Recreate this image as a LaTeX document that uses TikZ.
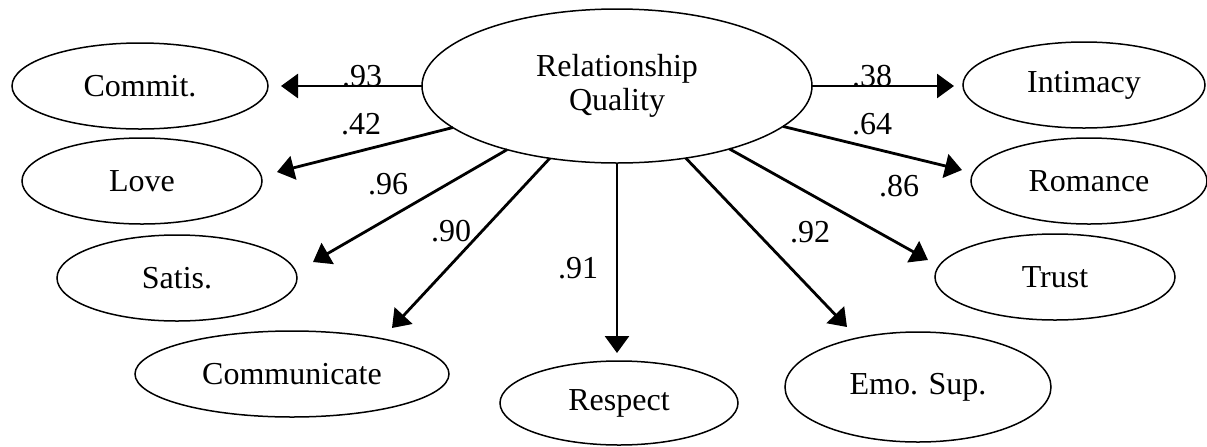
\documentclass[tikz,border=0pt]{standalone}
\usepackage{fontspec}
\setmainfont{Liberation Serif}
\usetikzlibrary{shapes.geometric,arrows.meta}
\begin{document}
\begin{tikzpicture}[x=0.5pt,y=-0.5pt,
  lat/.style={ellipse,draw,line width=0.75pt,inner sep=0pt,outer sep=0pt,
    font=\fontsize{16}{17}\selectfont,align=center},
  lbl/.style={inner sep=0pt,font=\fontsize{16}{17}\selectfont},
  arr/.style={line width=1.4pt,-{Triangle[length=8.5pt,width=12pt]}}]
\useasboundingbox (0,0) rectangle (1207,446);
% nodes
\node[lat,minimum width=195pt,minimum height=77pt] (rq) at (617,86) {Relationship\\Quality};
\node[lat,minimum width=128pt,minimum height=43pt] (commit) at (140,86) {Commit.};
\node[lat,minimum width=120pt,minimum height=43pt] (love) at (142,181) {Love};
\node[lat,minimum width=120pt,minimum height=43pt] (satis) at (177,278) {Satis.};
\node[lat,minimum width=157pt,minimum height=43pt] (comm) at (292,374) {Communicate};
\node[lat,minimum width=119pt,minimum height=42pt] (resp) at (619,403) {Respect};
\node[lat,minimum width=133pt,minimum height=55pt] (emo) at (918,387) {Emo. Sup.};
\node[lat,minimum width=120pt,minimum height=43pt] (trust) at (1055,277) {Trust};
\node[lat,minimum width=121pt,minimum height=43pt] (intim) at (1084,85) {Intimacy};
\node[lat,minimum width=118pt,minimum height=43pt] (rom) at (1089,181) {Romance};
% arrow tips
\coordinate (tCommit) at (281,86);
\coordinate (tLove) at (277,172);
\coordinate (tSatis) at (313,262);
\coordinate (tComm) at (392,328);
\coordinate (tResp) at (617,353);
\coordinate (tEmo) at (847,327);
\coordinate (tTrust) at (928,260);
\coordinate (tRom) at (962,170);
\coordinate (tIntim) at (954,86);
% connectors
\draw[arr] (rq.west) -- (tCommit);
\draw[arr] (rq) -- (tLove);
\draw[arr] (rq) -- (tSatis);
\draw[arr] (rq) -- (tComm);
\draw[arr] (rq.south -| tResp) -- (tResp);
\draw[arr] (rq) -- (tEmo);
\draw[arr] (rq) -- (tTrust);
\draw[arr] (rq) -- (tRom);
\draw[arr] (rq.east) -- (tIntim);
% labels
\node[lbl] (l93) at (362,76) {.93};
\node[lbl] (l42) at (361,124) {.42};
\node[lbl] (l96) at (388,184) {.96};
\node[lbl] (l90) at (451,231) {.90};
\node[lbl] (l91) at (578,268) {.91};
\node[lbl] (l92) at (810,232) {.92};
\node[lbl] (l86) at (899,186) {.86};
\node[lbl] (l64) at (872,124) {.64};
\node[lbl] (l38) at (872,76) {.38};
\end{tikzpicture}
\end{document}
